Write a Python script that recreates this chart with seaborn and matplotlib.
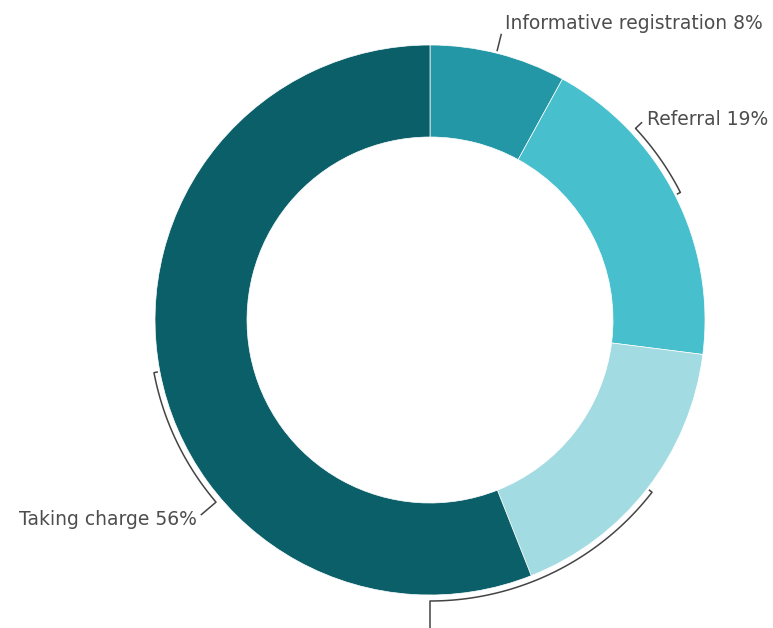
import numpy as np
import matplotlib
matplotlib.use("Agg")
import matplotlib.pyplot as plt
import seaborn as sns

sns.set_theme(style="white")
plt.rcParams['font.family'] = ['DejaVu Sans']

# data (clockwise from 12 o'clock)
categories = ['Informative registration', 'Referral', 'Orientation', 'Taking charge']
shares = [8, 19, 17, 56]
colors = ['#2397a6', '#48bfcd', '#a2dbe2', '#0b5f68']

# label placement around the ring (degrees clockwise from top, leader leg length)
label_angles = [14, 47, 180, 229.6]
label_legs = [14, 9, 50, 20]

W, H = 773, 628
fig = plt.figure(figsize=(W / 100, H / 100), dpi=100)
ax = fig.add_axes([0, 0, 1, 1])

cx, cy, R = 430, 308, 275
ax.pie(shares, colors=colors, startangle=90, counterclock=False,
       center=(cx, cy), radius=R,
       wedgeprops=dict(width=92, edgecolor='white', linewidth=0.5))
ax.set_xlim(0, W)
ax.set_ylim(0, H)
ax.set_aspect('equal')
ax.axis('off')


def pt(theta, r):
    t = np.radians(theta)
    return cx + r * np.sin(t), cy + r * np.cos(t)


line_kw = dict(color='#444444', lw=1.1, solid_capstyle='butt')
r_arc, r_hook = 281, 277
cum = np.cumsum([0] + shares)
for i, name in enumerate(categories):
    mid = (cum[i] + cum[i + 1]) / 2 * 3.6
    lab, leg = label_angles[i], label_legs[i]
    s = np.sin(np.radians(lab))
    c = np.cos(np.radians(lab))
    if abs(mid - lab) > 1.5:
        # hook + arc from slice middle to label angle
        th = np.linspace(mid, lab, 80)
        xs, ys = pt(th, r_arc)
        hx, hy = pt(mid, r_hook)
        xs = np.concatenate([[hx], xs])
        ys = np.concatenate([[hy], ys])
        x0, y0 = pt(lab, r_arc)
    else:
        xs, ys = [], []
        x0, y0 = pt(lab, R + 2)
    x1, y1 = pt(lab, r_arc + leg)
    ax.plot(list(xs) + [x0, x1], list(ys) + [y0, y1], **line_kw)
    if c < -0.9:
        continue  # label falls below the visible area
    ha = 'left' if s > 0 else 'right'
    if c > 0.9:
        tx, ty, va = x1 + 4, y1 + 1, 'bottom'
    elif s > 0:
        tx, ty, va = x1 + 5, y1 + 3, 'center'
    else:
        tx, ty, va = x1 - 4, y1 - 4, 'center'
    ax.text(tx, ty, f'{name} {shares[i]}%', ha=ha, va=va,
            fontsize=13.5, color='#4d4d4d')

fig.savefig('out.png', dpi=100)
